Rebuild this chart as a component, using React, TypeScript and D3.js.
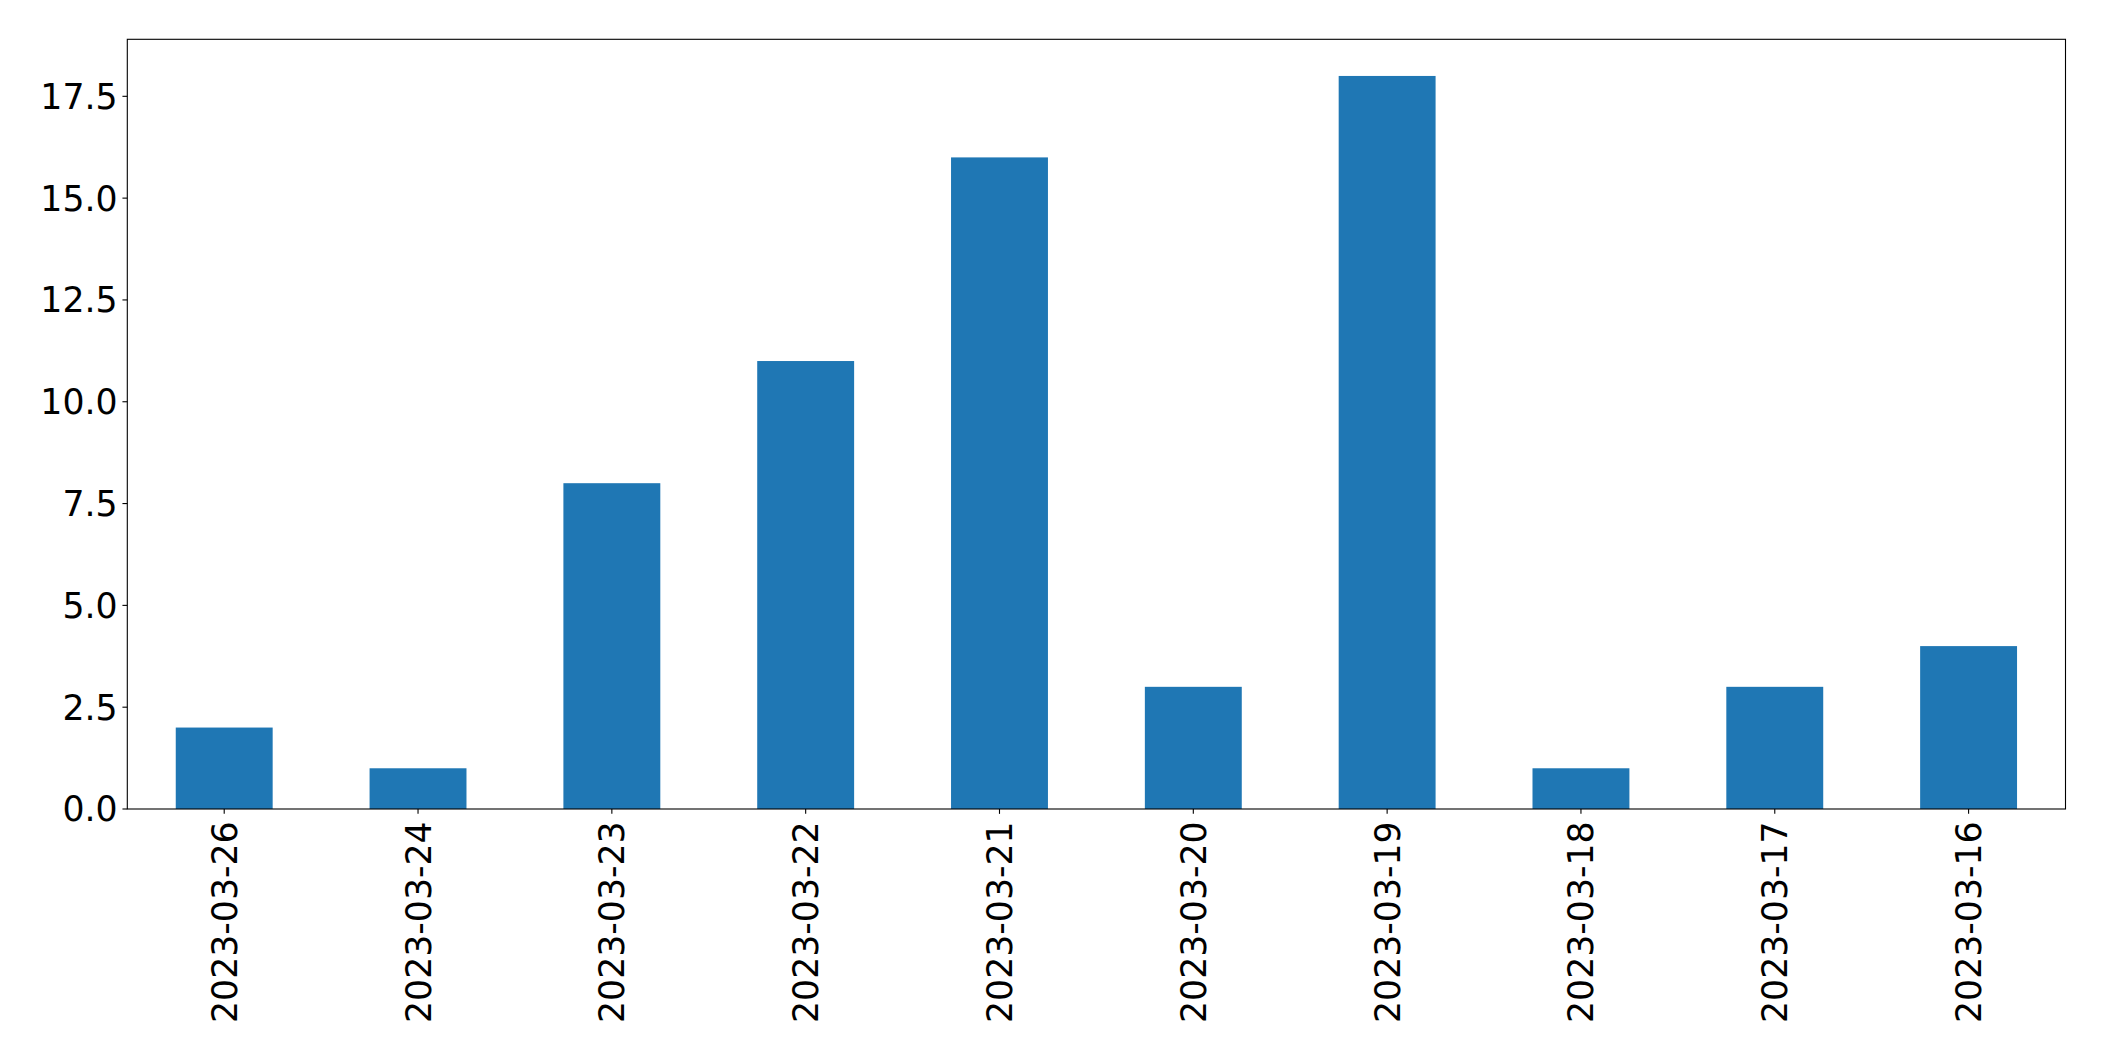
import React from "react";
import * as d3 from "d3";

const categories = ["2023-03-26","2023-03-24","2023-03-23","2023-03-22","2023-03-21","2023-03-20","2023-03-19","2023-03-18","2023-03-17","2023-03-16"];
const values = [2, 1, 8, 11, 16, 3, 18, 1, 3, 4];
const yTicks = [0, 2.5, 5, 7.5, 10, 12.5, 15, 17.5];

export default function App() {
  const W = 2104, H = 1061;
  const left = 127.3, right = 2065.5, top = 39.3, bottom = 809;
  const fs = 34.7;
  const x = d3.scaleLinear().domain([-0.5, categories.length - 0.5]).range([left, right]);
  const y = d3.scaleLinear().domain([0, d3.max(values)! * 1.05]).range([bottom, top]);
  const bw = x(0.25) - x(-0.25);
  const tick = 4.86;
  return (
    <svg width={W} height={H} style={{ position: "absolute", left: 0, top: 0, background: "#fff" }}
      fontFamily="DejaVu Sans, sans-serif">
      <rect x={0} y={0} width={W} height={H} fill="#fff" />
      {values.map((v, i) => (
        <rect key={i} x={x(i) - bw / 2} y={y(v)} width={bw} height={y(0) - y(v)} fill="#1f77b4" />
      ))}
      <rect x={left} y={top} width={right - left} height={bottom - top} fill="none" stroke="#000" strokeWidth={1.1} />
      {yTicks.map((t) => (
        <g key={t}>
          <line x1={left - tick} x2={left} y1={y(t)} y2={y(t)} stroke="#000" strokeWidth={1.1} />
          <text x={left - tick - 4.86} y={y(t)} dy="0.36em" textAnchor="end" fontSize={fs} fill="#000">
            {t.toFixed(1)}
          </text>
        </g>
      ))}
      {categories.map((c, i) => (
        <g key={c}>
          <line x1={x(i)} x2={x(i)} y1={bottom} y2={bottom + tick} stroke="#000" strokeWidth={1.1} />
          <text transform={`translate(${x(i)},${bottom + tick + 7.5}) rotate(-90)`} dy="0.36em"
            textAnchor="end" fontSize={fs} fill="#000">
            {c}
          </text>
        </g>
      ))}
    </svg>
  );
}
